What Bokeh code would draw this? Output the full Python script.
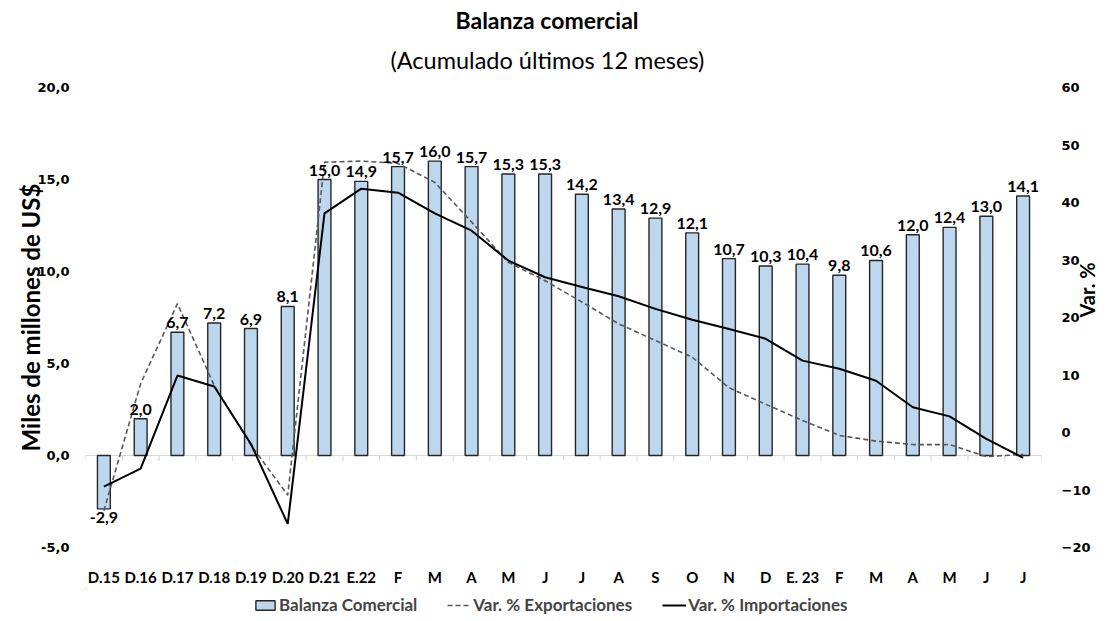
import math
from bokeh.plotting import figure
from bokeh.layouts import column
from bokeh.models import (Range1d, LinearAxis, FixedTicker, ColumnDataSource, Legend,
                          LegendItem, Title, Grid)
from bokeh.core.properties import value
from bokeh.embed import file_html
from bokeh.resources import INLINE

categories = ["D.15", "D.16", "D.17", "D.18", "D.19", "D.20", "D.21", "E.22", "F", "M", "A", "M", "J",
              "J", "A", "S", "O", "N", "D", "E. 23", "F", "M", "A", "M", "J", "J"]
balanza = [-2.9, 2.0, 6.7, 7.2, 6.9, 8.1, 15.0, 14.9, 15.7, 16.0, 15.7, 15.3, 15.3,
           14.2, 13.4, 12.9, 12.1, 10.7, 10.3, 10.4, 9.8, 10.6, 12.0, 12.4, 13.0, 14.1]
exportaciones = [-13.6, 8.5, 22.4, 8.2, -2.2, -10.9, 47.0, 47.2, 46.8, 43.5, 36.6, 29.6, 26.4,
                 22.7, 18.9, 16.0, 13.1, 7.8, 4.9, 2.1, -0.5, -1.5, -2.1, -2.1, -4.2, -3.8]
importaciones = [-9.4, -6.3, 9.9, 8.0, -2.0, -15.9, 38.1, 42.4, 41.7, 38.1, 35.1, 29.9, 27.0,
                 25.3, 23.7, 21.5, 19.6, 18.0, 16.3, 12.5, 11.1, 9.0, 4.4, 2.8, -1.1, -4.4]
left_ticks = [-5, 0, 5, 10, 15, 20]
right_ticks = [-20, -10, 0, 10, 20, 30, 40, 50, 60]
series_names = ["Balanza Comercial", "Var. % Exportaciones", "Var. % Importaciones"]

CAL = "Lato"
n = len(categories)
xs = list(range(1, n + 1))
fmt = lambda v: f"{v:.1f}".replace(".", ",")

BAR_FILL, BAR_LINE = "#BDD7EE", "#262626"
EXP_COLOR, IMP_COLOR = "#595959", "#000000"

W, H1, H2 = 1115, 588, 30
p = figure(width=W, height=H1, x_range=Range1d(0.5, n + 0.5), y_range=Range1d(-5, 20),
           output_backend="svg", toolbar_location=None, title=None,
           min_border_left=85, min_border_right=W - 1041, min_border_top=87,
           min_border_bottom=H1 - 549)
p.renderers = []
p.below = []
p.left = []
p.center = [c for c in p.center if not isinstance(c, Grid)]
p.outline_line_color = None
p.background_fill_color = "white"
p.border_fill_color = "white"
p.extra_y_ranges = {"pct": Range1d(-20, 60)}

spacer = Title(text=" ", text_font_size="3px", standoff=0)
sub = Title(text="(Acumulado últimos 12 meses)", align="left", offset=305, text_font=CAL,
            text_font_style="normal", text_font_size="23.5px", text_color="#000000", standoff=17)
main = Title(text="Balanza comercial", align="left", offset=370, text_font=CAL,
             text_font_style="bold", text_font_size="23px", text_color="#000000", standoff=3)
p.add_layout(spacer, "above")
p.add_layout(sub, "above")
p.add_layout(main, "above")

def style_axis(ax):
    ax.axis_line_color = None
    ax.major_tick_line_color = None
    ax.minor_tick_line_color = None
    ax.major_label_text_font = "DejaVu Sans"
    ax.major_label_text_font_style = "bold"
    ax.major_label_text_font_size = "13px"
    ax.major_label_text_color = "#000000"
    ax.axis_label_text_font = CAL
    ax.axis_label_text_font_style = "bold"
    ax.axis_label_text_color = "#000000"

yl = LinearAxis(ticker=FixedTicker(ticks=left_ticks), axis_label="Miles de millones de US$",
                major_label_overrides={t: fmt(t) for t in left_ticks})
style_axis(yl)
yl.axis_label_text_font_size = "24px"
yl.major_label_standoff = 10
try:
    yl.axis_label_standoff = -11
except Exception:
    yl.axis_label_standoff = 0
p.add_layout(yl, "left")

yr = LinearAxis(y_range_name="pct", ticker=FixedTicker(ticks=right_ticks), axis_label="Var. %")
style_axis(yr)
yr.axis_label_text_font_size = "20px"
yr.major_label_standoff = 14
try:
    yr.axis_label_standoff = -6
except Exception:
    yr.axis_label_standoff = 0
if "axis_label_orientation" in yr.properties():
    yr.axis_label_orientation = math.pi / 2
    yr.axis_label_text_align = "center"
p.add_layout(yr, "right")

xa = LinearAxis(ticker=FixedTicker(ticks=xs),
                major_label_overrides={x: c for x, c in zip(xs, categories)})
style_axis(xa)
xa.major_label_text_font = CAL
xa.major_label_text_font_size = "15px"
xa.major_label_standoff = 14
p.add_layout(xa, "below")

# zero line and category tick marks
bounds = [i + 0.5 for i in range(n + 1)]
p.segment(x0=[0.5], y0=[0], x1=[n + 0.5], y1=[0], line_color="#D9D9D9", line_width=1.2)
p.segment(x0=bounds, y0=[0] * len(bounds), x1=bounds, y1=[-0.28] * len(bounds),
          line_color="#D9D9D9", line_width=1.2)

src = ColumnDataSource(dict(x=xs, top=balanza, exp=exportaciones, imp=importaciones))
p.vbar(x="x", top="top", bottom=0, width=0.35, source=src,
       fill_color=BAR_FILL, line_color=BAR_LINE, line_width=1.4)
p.line(x="x", y="exp", source=src, y_range_name="pct", line_color=EXP_COLOR,
       line_width=1.6, line_dash="5 3")
p.line(x="x", y="imp", source=src, y_range_name="pct", line_color=IMP_COLOR, line_width=2)

pos = [(x, v) for x, v in zip(xs, balanza) if v >= 0]
neg = [(x, v) for x, v in zip(xs, balanza) if v < 0]
p.text(x=[a for a, _ in pos], y=[b for _, b in pos], text=[fmt(b) for _, b in pos],
       text_align="center", text_baseline="bottom", y_offset=-4,
       text_font=value(CAL), text_font_style="bold", text_font_size="16px", text_color="#000000")
p.text(x=[a for a, _ in neg], y=[b for _, b in neg], text=[fmt(b) for _, b in neg],
       text_align="center", text_baseline="top", y_offset=3,
       text_font=value(CAL), text_font_style="bold", text_font_size="16px", text_color="#000000")

# legend strip below the chart
p2 = figure(width=W, height=H2, x_range=Range1d(0, 1), y_range=Range1d(0, 1),
            output_backend="svg", toolbar_location=None, title=None, min_border=0)
p2.renderers = []
p2.below = []
p2.left = []
p2.center = [c for c in p2.center if not isinstance(c, Grid)]
p2.outline_line_color = None
p2.background_fill_color = "white"
p2.border_fill_color = "white"
# swatch renderers kept far outside the visible ranges; only their legend glyphs show
r_bar = p2.vbar(x=[-10], top=[11], bottom=10, width=0.5, fill_color=BAR_FILL,
                line_color=BAR_LINE, line_width=1.4)
r_exp = p2.line(x=[-10, -9], y=[10, 10], line_color=EXP_COLOR, line_width=1.6, line_dash="5 3")
r_imp = p2.line(x=[-10, -9], y=[10, 10], line_color=IMP_COLOR, line_width=2)

legend = Legend(items=[LegendItem(label=series_names[0], renderers=[r_bar]),
                       LegendItem(label=series_names[1], renderers=[r_exp]),
                       LegendItem(label=series_names[2], renderers=[r_imp])],
                orientation="horizontal", location=(168, 3), border_line_color=None,
                background_fill_alpha=0, label_text_font=CAL, label_text_font_style="bold",
                label_text_font_size="17px", label_standoff=2, glyph_width=24, glyph_height=12,
                spacing=30, padding=0, margin=0)
p2.add_layout(legend, "center")

open("out.html", "w").write(file_html(column(p, p2, spacing=0), INLINE))
